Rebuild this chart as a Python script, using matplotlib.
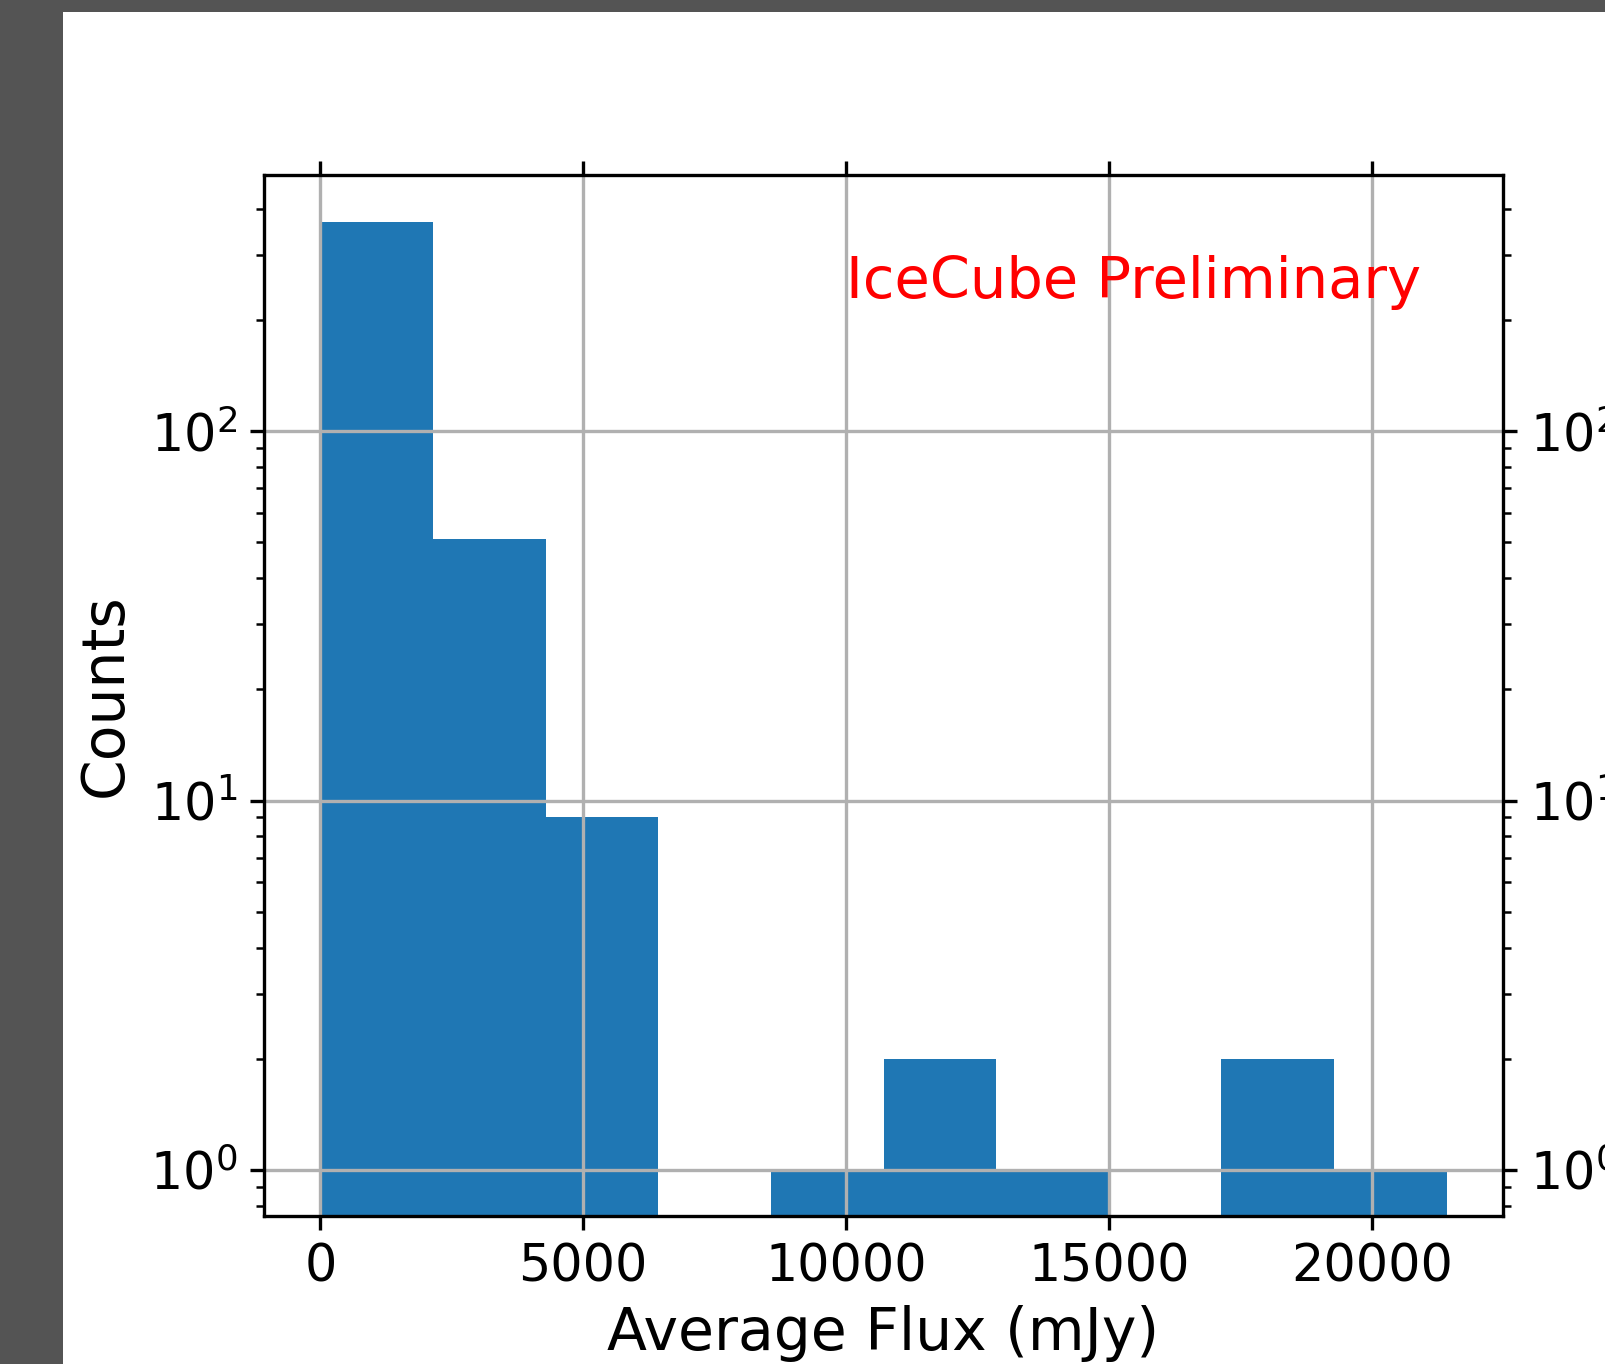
import matplotlib
matplotlib.use("Agg")
import matplotlib.pyplot as plt
from matplotlib.patches import Rectangle
import numpy as np

# Histogram data (10 equal-width bins)
bin_edges = np.linspace(0, 21420, 11)
counts = [369, 51, 9, 0, 1, 2, 1, 0, 2, 1]

W, H, DPI = 1605, 1364, 300
fig = plt.figure(figsize=(W / DPI, H / DPI), dpi=DPI, facecolor="#545454")
fig.patches.append(Rectangle((63 / W, 0), 1 - 63 / W, 1 - 12 / H,
                             transform=fig.transFigure, facecolor="white",
                             edgecolor="none", zorder=-10))

ax = fig.add_axes([264 / W, 1 - 1216 / H, (1503 - 264) / W, (1216 - 175) / H])
ax.set_zorder(5)
ax.hist(bin_edges[:-1], bins=bin_edges, weights=counts, color="#1f77b4", log=True)
ax.set_yscale("log")
ax.set_ylim(0.75, 494)
ax.set_xlim(-1071, 22491)
ax.set_xticks([0, 5000, 10000, 15000, 20000])
ax.grid(True, color="#b0b0b0", linewidth=0.8)
ax.tick_params(which="both", top=True, right=True, labelright=True,
               labelsize=12.2)
ax.tick_params(which="major", length=3.4, pad=3.0)
ax.tick_params(which="minor", length=2.0)
ax.set_xlabel("Average Flux (mJy)", fontsize=14, labelpad=3)
ax.set_ylabel("Counts", fontsize=14)
ax.text(10000, 230, "IceCube Preliminary", color="red", fontsize=13.8,
        ha="left", va="baseline")

fig.savefig("out.png", dpi=DPI, facecolor=fig.get_facecolor())
